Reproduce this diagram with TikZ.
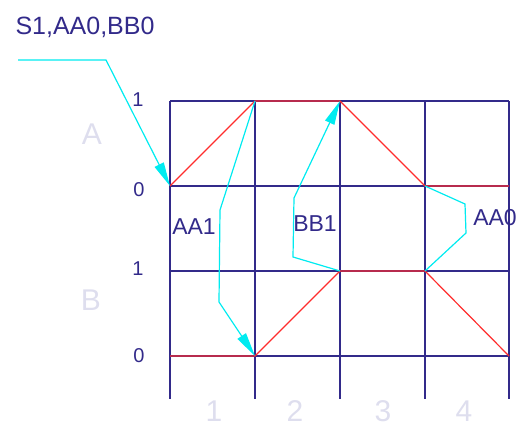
\documentclass[tikz,border=0pt]{standalone}
\usepackage{fontspec}
\setmainfont{Liberation Sans}
\usetikzlibrary{arrows.meta}
\definecolor{gridnavy}{RGB}{50,42,138}
\definecolor{sigred}{RGB}{255,45,45}
\definecolor{transcyan}{RGB}{0,235,240}
\definecolor{faintlabel}{RGB}{222,222,238}

\begin{document}
\begin{tikzpicture}[x=1pt, y=-1pt,
    grid line/.style={gridnavy, line width=1.6pt},
    signal/.style={sigred, line width=1.2pt},
    trans/.style={transcyan, line width=1.2pt},
    trans arrow/.style={trans, -{Triangle[length=24pt, width=10pt]}},
    tag/.style={font=\fontsize{23}{23}\selectfont, text=gridnavy, inner sep=0pt},
    level/.style={font=\fontsize{20}{20}\selectfont, text=gridnavy, inner sep=0pt},
    faint/.style={font=\fontsize{30}{30}\selectfont, text=faintlabel, inner sep=0pt},
]
    \useasboundingbox (0,0) rectangle (520,428);

    % Grid points
    \foreach \x [count=\i from 0] in {170,255,340,425,509} {
        \coordinate (a1-\i) at (\x,101);
        \coordinate (a0-\i) at (\x,186);
        \coordinate (b1-\i) at (\x,271);
        \coordinate (b0-\i) at (\x,356);
        \coordinate (end-\i) at (\x,399);
    }

    % Grid
    \foreach \r in {a1,a0,b1,b0}
        \draw[grid line] (\r-0) -- (\r-4);
    \foreach \i in {0,...,4}
        \draw[grid line] (a1-\i) -- (end-\i);

    % Waveforms
    \draw[signal] (a0-0) -- (a1-1) -- (a1-2) -- (a0-3) -- (a0-4);
    \draw[signal] (b0-0) -- (b0-1) -- (b1-2) -- (b1-3) -- (b0-4);

    % Transitions
    \coordinate (start) at (18,60);
    \draw[trans arrow] (start) -- (106,60) -- (a0-0);
    \draw[trans arrow] (a1-1) -- (220,210) -- (219,302) -- (b0-1);
    \draw[trans arrow] (b1-2) -- (293,257) -- (294,198) -- (a1-2);
    \draw[trans] (a0-3) -- (465,204) -- (466,233) -- (b1-3);

    % Labels
    \node[tag, font=\fontsize{25}{25}\selectfont] (state) at (85,27) {S1,AA0,BB0};
    \node[tag] (aa1) at (194,227) {AA1};
    \node[tag] (bb1) at (315,224) {BB1};
    \node[tag] (aa0) at (495,218) {AA0};

    \node[level] (la1) at (138,100) {1};
    \node[level] (la0) at (139,190) {0};
    \node[level] (lb1) at (138,269) {1};
    \node[level] (lb0) at (139,356) {0};

    \node[faint] (siga) at (92,134) {A};
    \node[faint] (sigb) at (91,300) {B};
    \node[faint] (t1) at (214,411) {1};
    \node[faint] (t2) at (295,411) {2};
    \node[faint] (t3) at (383,411) {3};
    \node[faint] (t4) at (464,411) {4};
\end{tikzpicture}
\end{document}
